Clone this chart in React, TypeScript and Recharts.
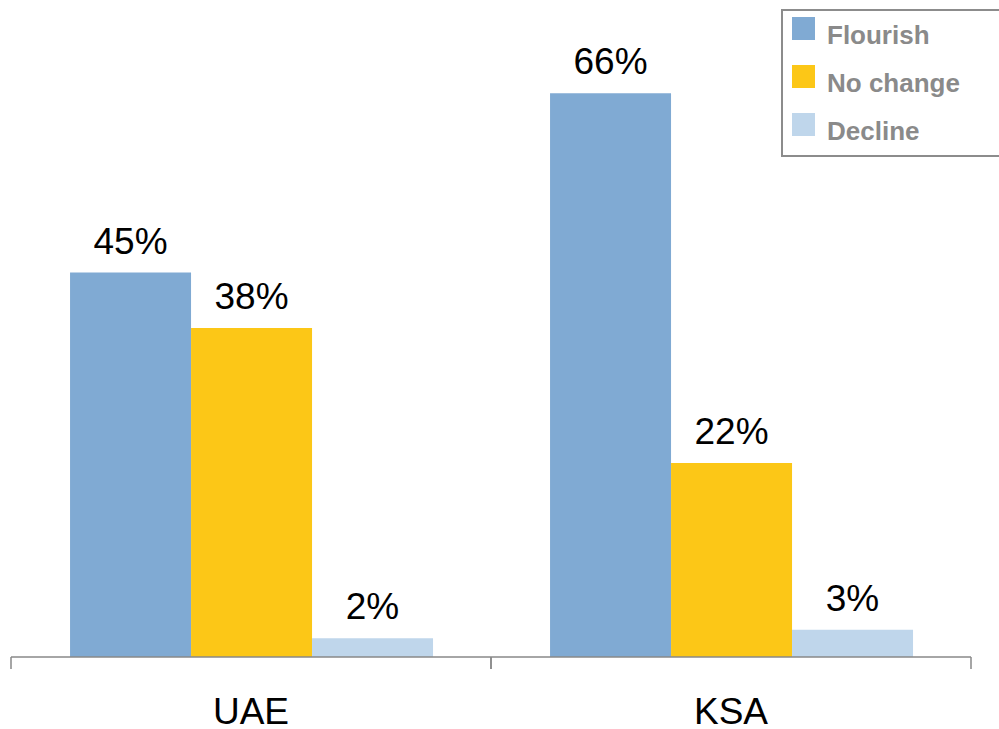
import React from 'react';
import { BarChart, Bar, XAxis, YAxis, Legend, LabelList } from 'recharts';

const categories = ['UAE', 'KSA'];
const flourish = [45.0, 66.0];
const noChange = [38.5, 22.7];
const decline = [2.2, 3.2];
const flourishLabels = ['45%', '66%'];
const noChangeLabels = ['38%', '22%'];
const declineLabels = ['2%', '3%'];

const seriesNames = ['Flourish', 'No change', 'Decline'];
const colors = ['#80AAD3', '#FCC717', '#BFD6EB'];

const data = categories.map((c, i) => ({
  name: c,
  flourish: flourish[i],
  noChange: noChange[i],
  decline: decline[i],
  flourishLabel: flourishLabels[i],
  noChangeLabel: noChangeLabels[i],
  declineLabel: declineLabels[i],
}));

const FONT = '"Liberation Sans", Arial, sans-serif';

const CategoryTick = (props: any) => {
  const { x, y, payload, width, visibleTicksCount } = props;
  const half = width / (visibleTicksCount || 2) / 2;
  return (
    <g>
      <line x1={x - half} x2={x - half} y1={y - 12} y2={y} stroke="#898989" strokeWidth={1.5} />
      <line x1={x + half} x2={x + half} y1={y - 12} y2={y} stroke="#898989" strokeWidth={1.5} />
      <text x={x} y={y} dy={55} textAnchor="middle" fontSize={37} fontFamily={FONT} fill="#000">
        {payload.value}
      </text>
    </g>
  );
};

const LegendBox = () => (
  <div
    style={{
      position: 'relative',
      boxSizing: 'border-box',
      width: 218,
      height: 148,
      borderTop: '2px solid #8c8c8c',
      borderLeft: '2px solid #8c8c8c',
      borderBottom: '2px solid #8c8c8c',
      background: '#fff',
    }}
  >
    {seriesNames.map((n, i) => (
      <React.Fragment key={n}>
        <div
          style={{
            position: 'absolute',
            left: 9,
            top: 6 + 48 * i,
            width: 23,
            height: 23,
            background: colors[i],
          }}
        />
        <span
          style={{
            position: 'absolute',
            left: 44,
            top: 11 + 48 * i,
            fontFamily: FONT,
            fontWeight: 'bold',
            fontSize: 26,
            color: '#8a8a8a',
            lineHeight: '26px',
            whiteSpace: 'nowrap',
          }}
        >
          {n}
        </span>
      </React.Fragment>
    ))}
  </div>
);

const labelStyle = { fontSize: 37, fontFamily: FONT, fill: '#000' };

export default function App() {
  return (
    <div style={{ position: 'absolute', left: 0, top: 0, width: 999, height: 729, background: '#fff' }}>
      <BarChart
        width={999}
        height={729}
        data={data}
        margin={{ top: 59, right: 28, left: 11, bottom: 0 }}
        barCategoryGap="12.3%"
        barGap={0}
      >
        <XAxis
          dataKey="name"
          height={72}
          axisLine={{ stroke: '#898989', strokeWidth: 1.5 }}
          tickLine={false}
          tickSize={12}
          tickMargin={0}
          tick={<CategoryTick />}
          interval={0}
        />
        <YAxis hide domain={[0, 70]} />
        <Legend
          layout="horizontal"
          verticalAlign="middle"
          align="center"
          content={<LegendBox />}
          wrapperStyle={{ position: 'absolute', left: 781, top: 9, width: 218 }}
        />
        <Bar dataKey="flourish" name="Flourish" fill={colors[0]} isAnimationActive={false}>
          <LabelList dataKey="flourishLabel" position="top" offset={19} style={labelStyle} />
        </Bar>
        <Bar dataKey="noChange" name="No change" fill={colors[1]} isAnimationActive={false}>
          <LabelList dataKey="noChangeLabel" position="top" offset={19} style={labelStyle} />
        </Bar>
        <Bar dataKey="decline" name="Decline" fill={colors[2]} isAnimationActive={false}>
          <LabelList dataKey="declineLabel" position="top" offset={19} style={labelStyle} />
        </Bar>
      </BarChart>
    </div>
  );
}
